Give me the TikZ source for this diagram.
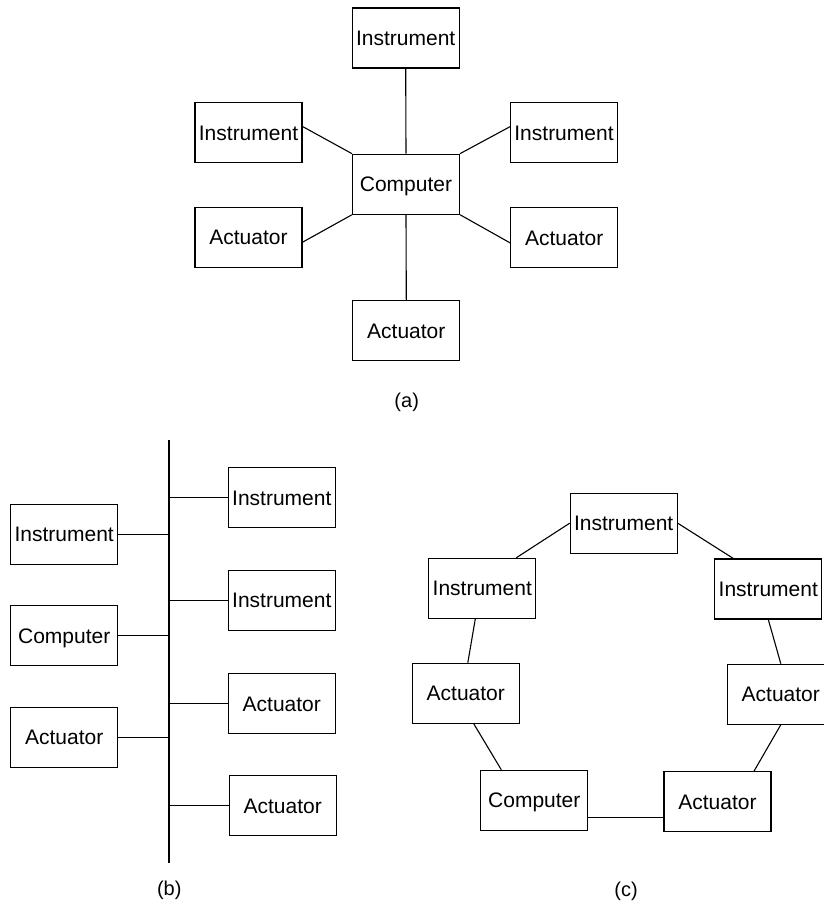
\documentclass[tikz,border=0pt]{standalone}
\usepackage{fontspec}
\setmainfont{Liberation Sans}
\usetikzlibrary{calc}
\begin{document}
\begin{tikzpicture}[x=1pt,y=-1pt,
  box/.style={draw, line width=1.1pt, inner sep=0pt, minimum width=107pt, minimum height=60pt,
    font=\fontsize{21}{25}\selectfont, text height=15pt, text depth=0pt},
  conn/.style={line width=1.1pt},
  sublabel/.style={font=\fontsize{20}{24}\selectfont, inner sep=0pt}]
\useasboundingbox (0,0) rectangle (824,903);
% (a) star
\node[box] (aTI) at (405.7,38) {Instrument};
\node[box] (aLI) at (248.5,132.5) {Instrument};
\node[box] (aRI) at (564,132.7) {Instrument};
\node[box] (aC) at (406,184.2) {Computer};
\node[box] (aLA) at (248.5,237.2) {Actuator};
\node[box] (aRA) at (564.2,237.9) {Actuator};
\node[box] (aBA) at (406.3,330.7) {Actuator};
\draw[conn] (aC.north) -- (aTI.south);
\draw[conn] ([yshift=6pt]aLI.east) -- (aC.north west);
\draw[conn] ([yshift=6pt]aRI.west) -- (aC.north east);
\draw[conn] ([yshift=-5pt]aLA.east) -- (aC.south west);
\draw[conn] ([yshift=-5pt]aRA.west) -- (aC.south east);
\draw[conn] (aC.south) -- (aBA.north);
\node[sublabel] (capa) at (406.7,402.7) {(a)};
% (b) bus
\coordinate (bt) at (169,440);
\coordinate (bb) at (169,863);
\draw[conn] (bt) -- (bb);
\node[box] (bRI1) at (281.8,497.7) {Instrument};
\node[box] (bRI2) at (281.8,600.3) {Instrument};
\node[box] (bRA1) at (281.8,703.5) {Actuator};
\node[box] (bRA2) at (282.7,805.7) {Actuator};
\node[box] (bLI) at (64.2,534.2) {Instrument};
\node[box] (bLC) at (64.2,635.5) {Computer};
\node[box] (bLA) at (64.2,737.3) {Actuator};
\foreach \n in {bRI1,bRI2,bRA1,bRA2}{\draw[conn] (\n.west) -- (\n.west -| bt);}
\foreach \n in {bLI,bLC,bLA}{\draw[conn] (\n.east) -- (\n.east -| bt);}
\node[sublabel] (capb) at (169.3,890.7) {(b)};
% (c) ring
\node[box] (cTI) at (623.7,523.2) {Instrument};
\node[box] (cLI) at (482.3,588.3) {Instrument};
\node[box] (cRI) at (768.3,589) {Instrument};
\node[box] (cLA) at (465.8,693.3) {Actuator};
\node[box] (cRA) at (780.8,694.2) {Actuator};
\node[box] (cC) at (534.3,800.3) {Computer};
\node[box] (cA) at (717.5,801.7) {Actuator};
\draw[conn] (cTI.west) -- ([xshift=34pt]cLI.north);
\draw[conn] (cTI.east) -- ([xshift=-35pt]cRI.north);
\draw[conn] ([xshift=-7pt]cLI.south) -- ([xshift=2pt]cLA.north);
\draw[conn] (cRI.south) -- (cRA.north);
\draw[conn] ([xshift=8pt]cLA.south) -- ([xshift=-33pt]cC.north);
\draw[conn] (cRA.south) -- ([xshift=36.5pt]cA.north);
\draw[conn] ([yshift=-17pt]cC.east) -- ([yshift=-17pt]cC.east -| cA.west);
\node[sublabel] (capc) at (626,891.7) {(c)};
\end{tikzpicture}
\end{document}
